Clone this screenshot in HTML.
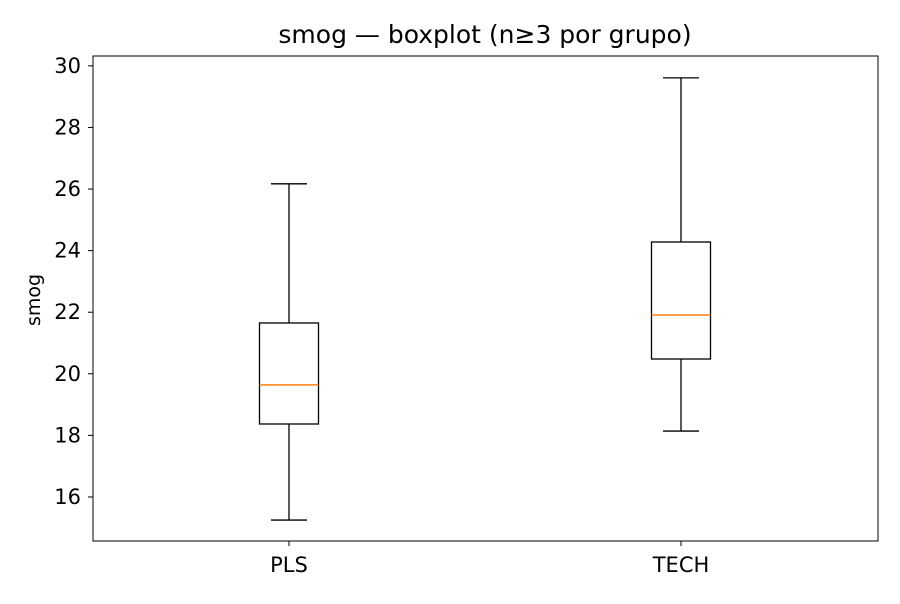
<!DOCTYPE html>
<html><head><meta charset="utf-8"><style>
body{margin:0;background:#fff;font-family:"DejaVu Sans","Liberation Sans",sans-serif}
svg text{font-family:"DejaVu Sans","Liberation Sans",sans-serif}
</style></head><body>
<svg id="chart" width="900" height="600" xmlns="http://www.w3.org/2000/svg">
<rect width="900" height="600" fill="#fff"/>
<text x="485" y="43" text-anchor="middle" font-size="25">smog — boxplot (n≥3 por grupo)</text>
<text transform="translate(40,300) rotate(-90)" text-anchor="middle" font-size="19">smog</text>
<g id="plot"></g>
<rect x="93" y="56" width="785" height="485" fill="none" stroke="#000" stroke-width="1"/>
</svg>
<script>
const categories = ["PLS", "TECH"];
const whiskerLow = [15.25, 18.14];
const q1 = [18.37, 20.48];
const medians = [19.64, 21.91];
const q3 = [21.65, 24.28];
const whiskerHigh = [26.17, 29.61];
const yTicks = [16, 18, 20, 22, 24, 26, 28, 30];

const NS = "http://www.w3.org/2000/svg";
const L = 93, R = 878, T = 56, B = 541;
const yMin = 14.57, yMax = 30.32;
function y(v){ return B - (v - yMin) / (yMax - yMin) * (B - T); }
function x(i){ return 289 + i * 392; }
const g = document.getElementById("plot");
function mk(tag, attrs){
  const e = document.createElementNS(NS, tag);
  for (const k in attrs) e.setAttribute(k, attrs[k]);
  g.appendChild(e);
  return e;
}
yTicks.forEach(t => {
  const ln = mk("line", {x1: L-5, x2: L, y1: y(t), y2: y(t), stroke: "#000"});
  
  
  const tx = mk("text", {x: L-12, y: y(t)+7, "text-anchor": "end", "font-size": 21});
  tx.textContent = t;
  
  
});
categories.forEach((c, i) => {
  const cx = x(i);
  const tk = mk("line", {x1: cx, x2: cx, y1: B, y2: B+5, stroke: "#000"});
  
  
  const lb = mk("text", {x: cx, y: B+31, "text-anchor": "middle", "font-size": 21});
  lb.textContent = c;
  
  
  const w1 = mk("line", {x1: cx, x2: cx, y1: y(q1[i]), y2: y(whiskerLow[i]), stroke: "#000", "stroke-width": 1.3});
  
  
  const w2 = mk("line", {x1: cx, x2: cx, y1: y(q3[i]), y2: y(whiskerHigh[i]), stroke: "#000", "stroke-width": 1.3});
  
  
  const c1 = mk("line", {x1: cx-18, x2: cx+18, y1: y(whiskerLow[i]), y2: y(whiskerLow[i]), stroke: "#000", "stroke-width": 1.3});
  
  
  const c2 = mk("line", {x1: cx-18, x2: cx+18, y1: y(whiskerHigh[i]), y2: y(whiskerHigh[i]), stroke: "#000", "stroke-width": 1.3});
  
  
  const bx = mk("rect", {x: cx-29.5, y: y(q3[i]), width: 59, height: y(q1[i]) - y(q3[i]), fill: "none", stroke: "#000", "stroke-width": 1.3});
  
  
  const md = mk("line", {x1: cx-29.5, x2: cx+29.5, y1: y(medians[i]), y2: y(medians[i]), stroke: "#ff7f0e", "stroke-width": 1.5});
  
  
});
</script>
</body></html>
